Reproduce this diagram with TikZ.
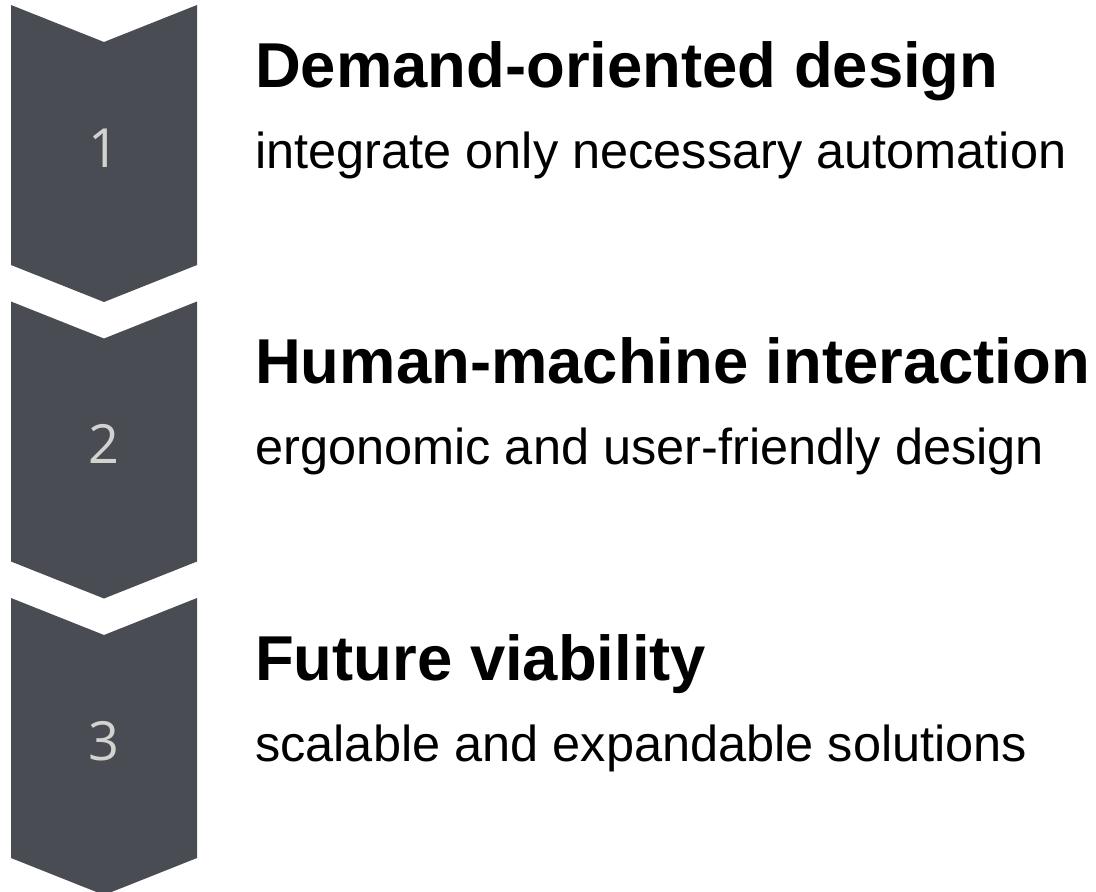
\documentclass[tikz,border=0pt]{standalone}
\usepackage{fontspec}
\setmainfont{Liberation Sans}
\newfontfamily\numfont{Open Sans}
\usepackage{tikz}

\definecolor{chevrongray}{HTML}{4A4C53}
\definecolor{numgray}{HTML}{D2D2CE}

\begin{document}
\begin{tikzpicture}[x=1pt, y=-1pt]
          \useasboundingbox (0, 0) rectangle (1096, 892);
          \foreach \i/\head/\sub in {1/Demand-oriented design/integrate only necessary automation,
                                     2/Human-machine interaction/ergonomic and user-friendly design,
                                     3/Future viability/scalable and expandable solutions} {
            \pgfmathsetmacro{\top}{5 + (\i-1)*296.5}
            \fill [chevrongray] (11, \top) -- (104, \top+37) -- (197, \top) -- (197, \top+260)
                  -- (104, \top+297) -- (11, \top+260) -- cycle;
            \node [anchor=base, inner sep=0pt, text=numgray, font=\numfont\fontsize{54}{54}\selectfont] (num\i) at (104, \top+162) {\i};
            \node [anchor=base west, inner sep=0pt, font=\bfseries\fontsize{63.4}{63.4}\selectfont] (head\i) at (255, \top+82) {\head};
            \node [anchor=base west, inner sep=0pt, font=\fontsize{50.5}{50.5}\selectfont] (sub\i) at (255, \top+163) {\sub};
          }
        \end{tikzpicture}
\end{document}
